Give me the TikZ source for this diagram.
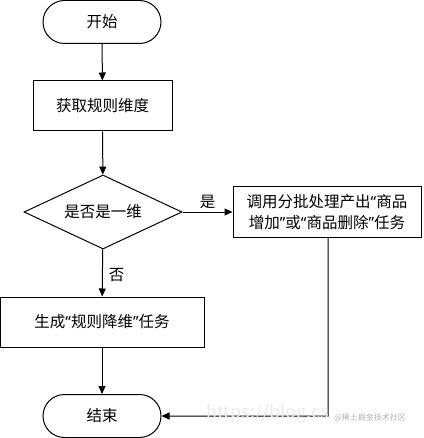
\documentclass[tikz,border=0pt]{standalone}
\usepackage{fontspec}
\setmainfont{Noto Sans CJK SC}
\newfontfamily\latq{Noto Sans}
\newcommand{\myoq}{{\latq “}}
\newcommand{\mycq}{{\latq ”}}
\usetikzlibrary{arrows.meta,shapes.geometric,shapes.misc}
\begin{document}
\begin{tikzpicture}[x=1pt,y=-1pt,
  base/.style={draw=black,line width=1pt,font=\fontsize{15.5}{18}\selectfont,inner sep=0pt},
  term/.style={base,rounded rectangle,minimum width=118pt,minimum height=43pt},
  proc/.style={base,rectangle,minimum height=50pt},
  dec/.style={base,diamond,minimum width=158pt,minimum height=74pt,aspect=2.1},
  arr/.style={line width=1pt,-{Triangle[length=8pt,width=7pt]}},
  lbl/.style={font=\fontsize{15.5}{18}\selectfont,inner sep=0pt}]
\useasboundingbox (0,0) rectangle (423,438);
\node[term] (start) at (102,22) {开始};
\node[proc,minimum width=139pt] (get) at (102.5,106) {获取规则维度};
\node[dec] (dim) at (103,212) {是否是一维};
\node[proc,minimum width=188pt,minimum height=50pt,align=center,font=\fontsize{15.5}{21}\selectfont] (batch) at (327,212) {调用分批处理产出\myoq 商品\\增加\mycq 或\myoq 商品删除\mycq 任务};
\node[proc,minimum width=204pt] (gen) at (102,322) {生成\myoq 规则降维\mycq 任务};
\node[term] (end) at (102,416) {结束};
\coordinate (corner) at (328,416);
\draw[arr] (start) -- (get);
\draw[arr] (get) -- (dim);
\draw[arr] (dim) -- node[lbl,above,yshift=3pt] {是} (batch);
\draw[arr] (dim) -- node[lbl,right,xshift=6pt,pos=0.55] {否} (gen);
\draw[arr] (gen) -- (end);
\draw[arr] (batch.south -| corner) -- (corner) -- (end);
\node[inner sep=0pt,text=black!8,font=\fontsize{18}{18}\selectfont,anchor=east] (wm1) at (329,414) {https://blog.cs};
\node[inner sep=0pt,text=black!30,font=\fontsize{8}{8}\selectfont,anchor=west] (wm2) at (334,418) {@稀土掘金技术社区};
\end{tikzpicture}
\end{document}
